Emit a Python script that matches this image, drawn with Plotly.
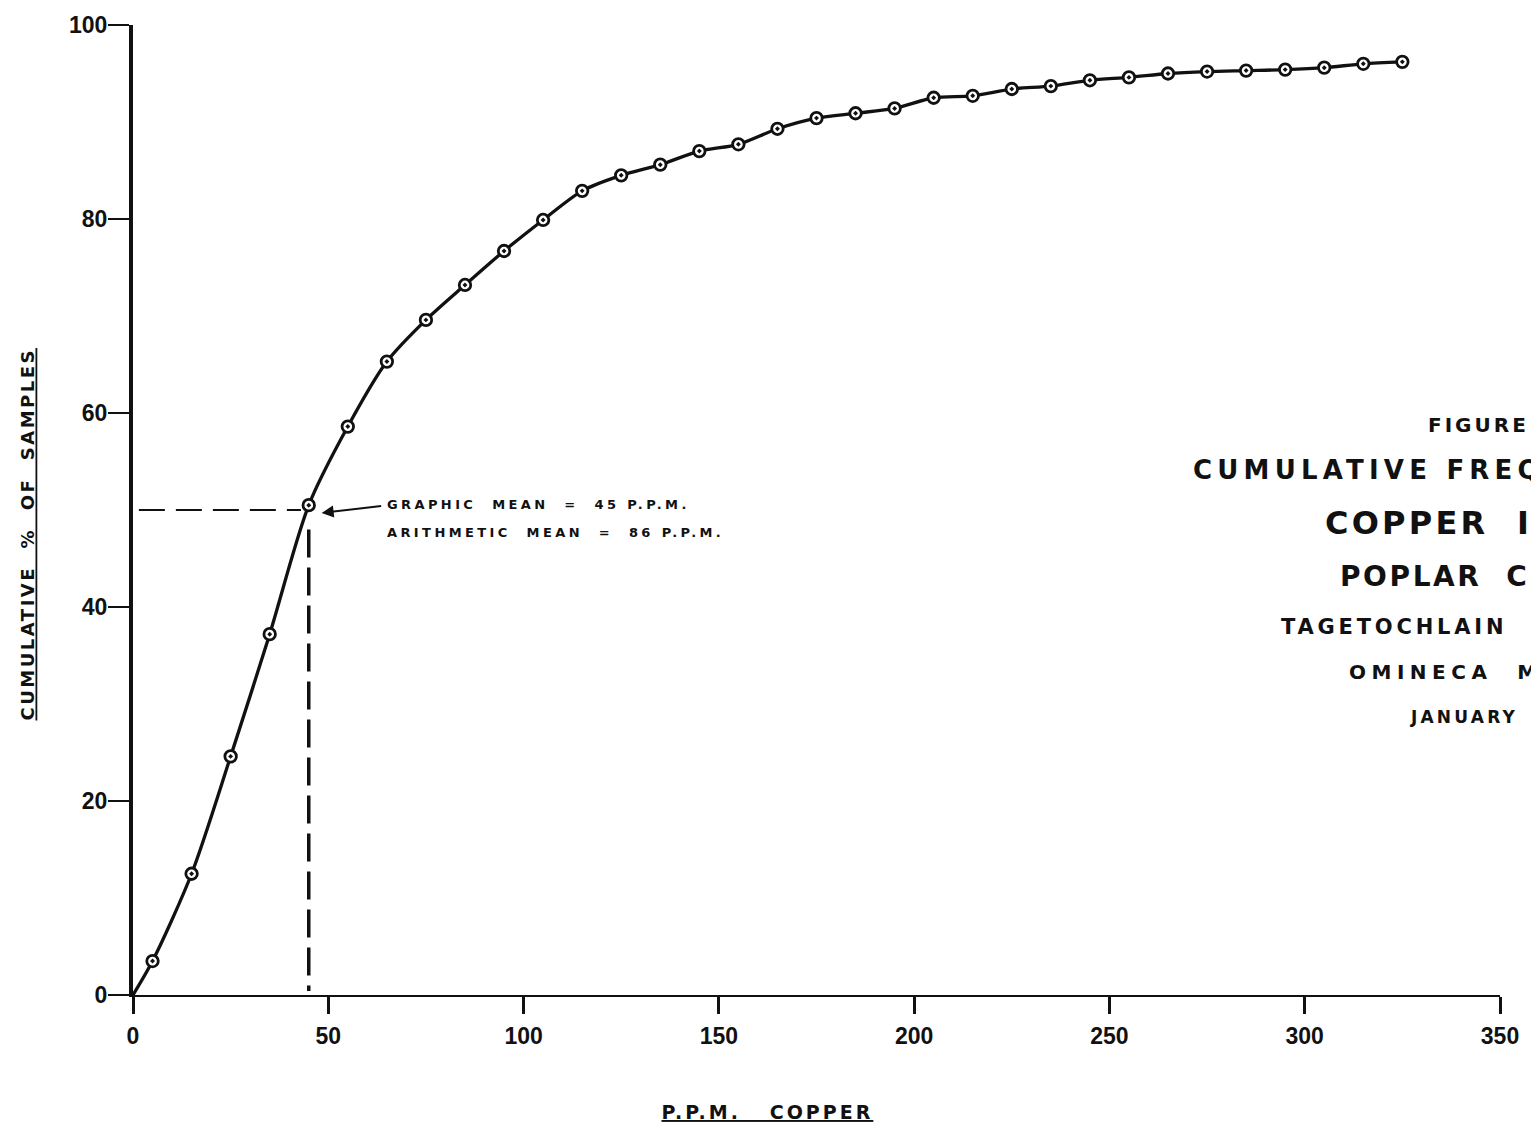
import plotly.graph_objects as go

# ---- data ----
ppm_copper = [0, 5, 15, 25, 35, 45, 55, 65, 75, 85, 95, 105, 115, 125, 135, 145, 155,
              165, 175, 185, 195, 205, 215, 225, 235, 245, 255, 265, 275, 285, 295,
              305, 315, 325]
cum_percent = [0, 3.5, 12.5, 24.6, 37.2, 50.5, 58.6, 65.3, 69.6, 73.2, 76.7, 79.9, 82.9,
               84.5, 85.6, 87.0, 87.7, 89.3, 90.4, 90.9, 91.4, 92.5, 92.7, 93.4, 93.7,
               94.3, 94.6, 95.0, 95.2, 95.3, 95.4, 95.6, 96.0, 96.2]
x_ticks = [0, 50, 100, 150, 200, 250, 300, 350]
y_ticks = [0, 20, 40, 60, 80, 100]
graphic_mean = 45
median_pct = 50

FONT = "DejaVu Sans"
TICKFONT = "Liberation Sans"
BLACK = "#111111"

fig = go.Figure()

# curve through the origin
fig.add_trace(go.Scatter(
    x=ppm_copper, y=cum_percent, mode="lines",
    line=dict(color=BLACK, width=3.3, shape="spline", smoothing=0.8),
    hoverinfo="skip", showlegend=False))

# open circle markers with centre dot (not at origin)
fig.add_trace(go.Scatter(
    x=ppm_copper[1:], y=cum_percent[1:], mode="markers",
    marker=dict(symbol="circle-dot", size=11.5, color="white",
                line=dict(color=BLACK, width=2.8)),
    showlegend=False))

# dashed guide lines for graphic mean
fig.add_trace(go.Scatter(
    x=[1.5, graphic_mean - 2], y=[median_pct, median_pct], mode="lines",
    line=dict(color=BLACK, width=2.2, dash="26px,11px"), showlegend=False))
fig.add_trace(go.Scatter(
    x=[graphic_mean, graphic_mean], y=[median_pct - 2, 0.4], mode="lines",
    line=dict(color=BLACK, width=3.5, dash="28px,10px"), showlegend=False))

annotations = []
# arrow to the graphic mean point
annotations.append(dict(x=48.3, y=49.7, xref="x", yref="y", text="",
                        showarrow=True, ax=61, ay=-7, arrowhead=2, arrowsize=1.2,
                        arrowwidth=2, arrowcolor=BLACK))
annotations.append(dict(x=64.4, y=50.6, xref="x", yref="y", xanchor="left", yanchor="middle",
                        text="GRAPHIC  MEAN  =  45 P.P.M.", showarrow=False,
                        font=dict(family=FONT, size=13, color=BLACK, weight="bold")))
annotations.append(dict(x=64.4, y=47.7, xref="x", yref="y", xanchor="left", yanchor="middle",
                        text="ARITHMETIC  MEAN  =  86 P.P.M.", showarrow=False,
                        font=dict(family=FONT, size=13, color=BLACK, weight="bold")))

# title block (cut off at the right edge as in the reference)
title_lines = [
    ("FIGURE", 331.1, 58.8, 20),
    ("CUMULATIVE FREQ", 270.8, 54.1, 26),
    ("COPPER  I", 304.8, 48.7, 32),
    ("POPLAR  C", 308.6, 43.1, 28),
    ("TAGETOCHLAIN", 293.3, 37.9, 21),
    ("OMINECA  M", 310.7, 33.3, 20),
    ("JANUARY", 326.5, 28.7, 17),
]
for txt, xx, yy, sz in title_lines:
    annotations.append(dict(x=xx, y=yy, xref="x", yref="y", xanchor="left", yanchor="middle",
                            text=txt, showarrow=False,
                            font=dict(family=FONT, size=sz, color=BLACK, weight="bold")))

# axis titles
annotations.append(dict(x=-0.077, y=0.475, xref="paper", yref="paper",
                        text="<u>CUMULATIVE  %  OF  SAMPLES</u>", textangle=-90,
                        showarrow=False, xanchor="center", yanchor="middle",
                        font=dict(family=FONT, size=18, color=BLACK, weight="bold")))
annotations.append(dict(x=0.464, y=-0.121, xref="paper", yref="paper",
                        text="<u>P.P.M.   COPPER</u>",
                        showarrow=False, xanchor="center", yanchor="middle",
                        font=dict(family=FONT, size=19, color=BLACK, weight="bold")))

fig.update_layout(
    width=1531, height=1127,
    margin=dict(l=133, r=28, t=16, b=132),
    paper_bgcolor="white", plot_bgcolor="white",
    annotations=annotations,
    xaxis=dict(range=[0, 350], tickvals=x_ticks, ticktext=[str(v) for v in x_ticks],
               showgrid=False, zeroline=False, showline=True, linecolor=BLACK, linewidth=2,
               ticks="outside", ticklen=17, tickwidth=3, tickcolor=BLACK,
               ticklabelstandoff=2,
               tickfont=dict(family=TICKFONT, size=23, color=BLACK, weight="bold"),
               fixedrange=True),
    yaxis=dict(range=[0, 100], tickvals=y_ticks, ticktext=[str(v) for v in y_ticks],
               showgrid=False, zeroline=False, showline=True, linecolor=BLACK, linewidth=4,
               ticks="outside", ticklen=21, tickwidth=2, tickcolor=BLACK,
               ticklabelstandoff=-4,
               tickfont=dict(family=TICKFONT, size=23, color=BLACK, weight="bold"),
               fixedrange=True),
    showlegend=False,
)

post = """
document.body.style.margin='0';
document.body.style.overflow='hidden';
var ls = {
 'GRAPHIC  MEAN  =  45 P.P.M.':[3.4,'left'],
 'ARITHMETIC  MEAN  =  86 P.P.M.':[3.4,'left'],
 'FIGURE':[3,'left'],
 'CUMULATIVE FREQ':[5.2,'left'],
 'COPPER  I':[3.2,'left'],
 'POPLAR  C':[2.6,'left'],
 'TAGETOCHLAIN':[3.8,'left'],
 'OMINECA  M':[5.5,'left'],
 'JANUARY':[3.2,'left'],
 'CUMULATIVE  %  OF  SAMPLES':[2.5,'center'],
 'P.P.M.   COPPER':[3,'center']
};
document.querySelectorAll('text.annotation-text').forEach(function(t){
  var k = t.textContent;
  var s = ls[k];
  if (!s) return;
  t.style.letterSpacing = s[0] + 'px';
  if (s[1] === 'left') {
    var x0 = parseFloat(t.getAttribute('x') || '0');
    t.setAttribute('x', x0 + k.length * s[0] / 2);
  }
});
"""

fig.write_html("out.html", config={"displayModeBar": False}, post_script=post)
